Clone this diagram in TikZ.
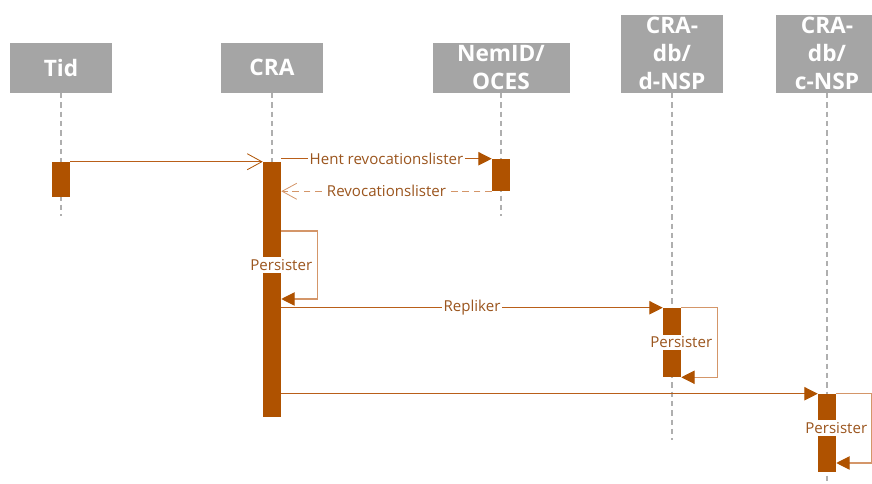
\documentclass[tikz,border=0pt]{standalone}
\usepackage{fontspec}
\setmainfont{Open Sans}
\usetikzlibrary{
  positioning,
  arrows.meta
}
\definecolor{hdrgray}{RGB}{165,165,165}
\definecolor{barorange}{RGB}{175,82,0}
\definecolor{calldark}{RGB}{185,95,25}
\definecolor{calltan}{RGB}{212,150,105}
\definecolor{labelbrown}{RGB}{155,85,30}
\definecolor{lifegray}{RGB}{175,175,175}
\tikzset{
  hdrbox/.style={
    fill=hdrgray, draw=none, anchor=south,
    minimum width=76.5pt, minimum height=37.5pt, inner ysep=2pt,
    font=\fontsize{17}{21}\selectfont\bfseries, text=white, align=center
  },
  lifeline/.style={
    draw=lifegray, line width=0.8pt, dash pattern=on 4pt off 3pt
  },
  actbar/.style={
    fill=barorange, draw=none, minimum width=13.5pt, inner sep=0pt
  },
  msglabel/.style={
    fill=white, inner xsep=1pt, inner ysep=1.5pt,
    font=\fontsize{11.3}{13}\selectfont, text=labelbrown
  },
  callarrow/.style={
    draw=calldark, line width=0.8pt,
    -{Triangle[length=10pt,width=10pt,color=barorange]}
  },
  openarrow/.style={
    draw=calldark, line width=0.8pt,
    -{Straight Barb[length=11pt,width=12pt,color=barorange,line width=0.6pt]}
  },
  returnarrow/.style={
    draw=calltan, line width=0.8pt, dash pattern=on 5pt off 3.5pt,
    -{Straight Barb[length=11pt,width=12pt,color=calltan,line width=0.6pt]}
  },
  selfarrow/.style={
    draw=calltan, line width=0.8pt, rounded corners=0pt,
    -{Triangle[length=10pt,width=10pt,color=barorange]}
  }
}
\begin{document}
\begin{tikzpicture}[x=0.75pt, y=-0.75pt]
    \fill[white] (0,0) rectangle (872,484);
    \useasboundingbox (0,0) rectangle (872,484);

    % deltagere
    \node[hdrbox] (tid) at (61,93) {Tid};
    \node[hdrbox] (cra) at (272,93) {CRA};
    \node[hdrbox, minimum width=102.75pt] (nemid) at (501,93) {NemID/\\OCES};
    \node[hdrbox] (dnsp) at (672,93) {CRA-\\db/\\d-NSP};
    \node[hdrbox] (cnsp) at (827,93) {CRA-\\db/\\c-NSP};

    \coordinate (tidend) at (61,216);
    \coordinate (craend) at (272,410);
    \coordinate (nemidend) at (501,216);
    \coordinate (dnspend) at (672,440);
    \coordinate (cnspend) at (827,490);

    \draw[lifeline] (tid.south) -- (tidend);
    \draw[lifeline] (cra.south) -- (craend);
    \draw[lifeline] (nemid.south) -- (nemidend);
    \draw[lifeline] (dnsp.south) -- (dnspend);
    \draw[lifeline] (cnsp.south) -- (cnspend);

    % aktiveringer
    \node[actbar, minimum height=26.25pt] (tidbar) at (61,179.5) {};
    \node[actbar, minimum height=191.25pt] (crabar) at (272,289.5) {};
    \node[actbar, minimum height=24pt] (nemidbar) at (501,175) {};
    \node[actbar, minimum height=51.75pt] (dnspbar) at (672,342.5) {};
    \node[actbar, minimum height=58.5pt] (cnspbar) at (827,433) {};

    % beskeder
    \draw[openarrow] (tidbar.north east) -- (crabar.north west);
    \draw[callarrow] (crabar.east |- nemidbar.north) -- (nemidbar.north west)
      node[msglabel, midway] {Hent revocationslister};
    \draw[returnarrow] (nemidbar.south west) -- (crabar.east |- nemidbar.south)
      node[msglabel, midway] {Revocationslister};

    \draw[selfarrow] (crabar.east |- 0,231) -- ++(36,0) -- ++(0,68) -- (crabar.east |- 0,299);
    \node[msglabel] (persist1) at (crabar.east |- 0,265) {Persister};

    \draw[callarrow] (crabar.east |- dnspbar.north) -- (dnspbar.north west)
      node[msglabel, midway] {Repliker};
    \draw[selfarrow] (dnspbar.north east) -- ++(36,0) |- (dnspbar.south east);
    \node[msglabel] (persist2) at (dnspbar.east) {Persister};

    \draw[callarrow] (crabar.east |- cnspbar.north) -- (cnspbar.north west);
    \draw[selfarrow] (cnspbar.north east) -- ++(35,0) |- (cnspbar.east |- 0,463);
    \node[msglabel] (persist3) at (cnspbar.east |- 0,428) {Persister};

  \end{tikzpicture}
\end{document}
